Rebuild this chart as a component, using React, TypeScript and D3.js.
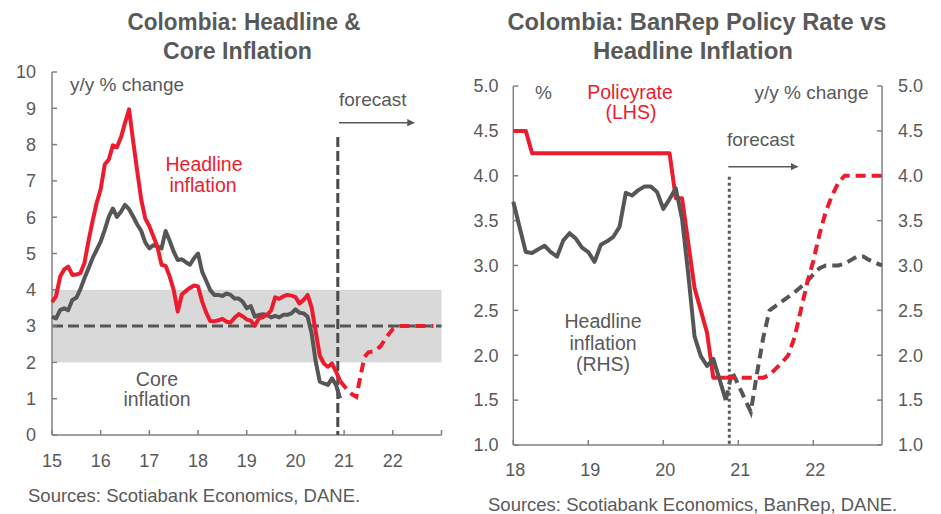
import React from "react";
import * as d3 from "d3";

// ---------- DATA ----------
// Left chart: monthly y/y %, first value sits at the start of 2015 (month-end plotting)
const leftStartYear = 15;
const headlineCPI = [
  3.66, 3.82, 4.36, 4.56, 4.64, 4.41, 4.42, 4.46, 4.74, 5.35, 5.89, 6.39,
  6.77, 7.45, 7.59, 7.98, 7.93, 8.2, 8.6, 8.97, 8.1, 7.27, 6.48, 5.96,
  5.75, 5.47, 5.18, 4.69, 4.66, 4.37, 3.99, 3.4, 3.87, 3.97, 4.05, 4.12,
  4.09, 3.68, 3.37, 3.14, 3.13, 3.16, 3.2, 3.12, 3.1, 3.23, 3.33, 3.27,
  3.18, 3.15, 3.01, 3.21, 3.25, 3.31, 3.43, 3.79, 3.75, 3.82, 3.86, 3.84,
  3.8, 3.62, 3.72, 3.86, 3.51, 2.85, 2.19, 1.97, 1.88, 1.97, 1.75, 1.49,
];
const coreCPI = [
  3.26, 3.21, 3.44, 3.49, 3.44, 3.72, 3.78, 4.02, 4.32, 4.59, 4.87, 5.1,
  5.33, 5.65, 6.01, 6.24, 6.01, 6.15, 6.34, 6.22, 6.02, 5.8, 5.62, 5.3,
  5.14, 5.23, 5.19, 5.14, 5.62, 5.35, 5.05, 4.82, 4.84, 4.76, 4.69, 4.87,
  5.0, 4.5, 4.25, 3.99, 3.86, 3.86, 3.83, 3.9, 3.86, 3.76, 3.76, 3.67,
  3.49, 3.55, 3.26, 3.31, 3.33, 3.31, 3.24, 3.28, 3.24, 3.31, 3.31, 3.35,
  3.46, 3.37, 3.35, 3.26, 2.8, 2.02, 1.47, 1.42, 1.38, 1.56, 1.38, 1.01,
];
const headlineForecastStart = 71; // months after the first value
const headlineForecast = [
  1.49, 1.35, 1.22, 1.12, 1.05, 1.6, 2.15, 2.28, 2.3, 2.35, 2.45, 2.62,
  2.78, 2.92, 2.98, 3.0, 3.0, 3.0, 3.0, 3.0, 3.0, 3.0, 3.0, 3.0,
];
const targetBand = [2, 4];
const targetMid = 3;
const leftForecastLine = 20.87;
const leftYears = [15, 16, 17, 18, 19, 20, 21, 22, 23];
const leftYTicks = [0, 1, 2, 3, 4, 5, 6, 7, 8, 9, 10];

// Right chart: monthly, first value = Jan 2018
const rightStartYear = 18;
const rightEndYear = 22 + 11 / 12;
const policyRate = [
  4.5, 4.5, 4.5, 4.25, 4.25, 4.25, 4.25, 4.25, 4.25, 4.25, 4.25, 4.25,
  4.25, 4.25, 4.25, 4.25, 4.25, 4.25, 4.25, 4.25, 4.25, 4.25, 4.25, 4.25,
  4.25, 4.25, 3.75, 3.75, 3.25, 2.75, 2.5, 2.25, 1.75, 1.75, 1.75,
];
const rightForecastStart = 34;
const policyForecast = [
  1.75, 1.75, 1.75, 1.75, 1.75, 1.75, 1.75, 1.78, 1.85, 1.92, 2.0, 2.2,
  2.5, 2.8, 3.05, 3.35, 3.6, 3.78, 3.92, 4.0, 4.0, 4.0, 4.0, 4.0, 4.0, 4.0,
];
const inflationRHS = [
  3.71, 3.43, 3.15, 3.14, 3.18, 3.22, 3.15, 3.1, 3.28, 3.36, 3.3, 3.2,
  3.15, 3.04, 3.23, 3.27, 3.32, 3.43, 3.81, 3.78, 3.84, 3.88, 3.88, 3.82,
  3.63, 3.74, 3.86, 3.52, 2.9, 2.21, 1.99, 1.88, 1.96, 1.73, 1.5,
];
const inflationForecast = [
  1.5, 1.82, 1.67, 1.52, 1.37, 1.8, 2.2, 2.5, 2.55, 2.6, 2.65, 2.7,
  2.76, 2.82, 2.9, 2.97, 3.0, 3.0, 3.0, 3.02, 3.06, 3.1, 3.1, 3.06, 3.03, 3.0,
];
const rightForecastLine = 20.88;
const rightYears = [18, 19, 20, 21, 22];
const rightYTicks = [1, 1.5, 2, 2.5, 3, 3.5, 4, 4.5, 5];

// ---------- STYLE ----------
const RED = "#EC1C2E";
const DARK = "#565656";
const TXT = "#595959";
const AXIS = "#808080";
const FONT = "'Liberation Sans', Arial, sans-serif";

type P = { t: number; v: number };
const toPts = (vals: number[], start: number, offset = 0): P[] =>
  vals.map((v, i) => ({ t: start + (i + offset) / 12, v }));

export default function App() {
  // Left scales
  const xL = d3.scaleLinear().domain([15, 23]).range([52, 441.5]);
  const yL = d3.scaleLinear().domain([0, 10]).range([435, 72]);
  // Right scales
  const xR = d3.scaleLinear().domain([18, 23]).range([513.3, 888.3]);
  const yR = d3.scaleLinear().domain([1, 5]).range([445, 86]);

  const lineL = d3.line<P>().x((d) => xL(d.t)).y((d) => yL(d.v));
  const lineR = d3.line<P>().x((d) => xR(d.t)).y((d) => yR(d.v));

  const head = toPts(headlineCPI, leftStartYear);
  const core = toPts(coreCPI, leftStartYear);
  const headF = toPts(headlineForecast, leftStartYear, headlineForecastStart);
  const pol = toPts(policyRate, rightStartYear);
  const polF = toPts(policyForecast, rightStartYear, rightForecastStart);
  const inf = toPts(inflationRHS, rightStartYear);
  const infF = toPts(inflationForecast, rightStartYear, rightForecastStart);

  const xRend = xR(rightEndYear);

  return (
    <svg
      width={941}
      height={514}
      style={{ position: "absolute", left: 0, top: 0, background: "#fff" }}
      fontFamily={FONT}
    >
      <defs>
        <marker id="arr" viewBox="0 0 10 10" refX="9" refY="5" markerWidth="5" markerHeight="5" orient="auto">
          <path d="M0,0 L10,5 L0,10 z" fill={TXT} />
        </marker>
      </defs>

      {/* ===== Titles ===== */}
      <g fill={TXT} fontWeight="bold" fontSize={24} textAnchor="middle">
        <text x={244} y={30} textLength={233} lengthAdjust="spacingAndGlyphs">Colombia:  Headline &amp;</text>
        <text x={237.5} y={59} textLength={149} lengthAdjust="spacingAndGlyphs">Core Inflation</text>
        <text x={697} y={30} textLength={379} lengthAdjust="spacingAndGlyphs">Colombia:  BanRep Policy Rate vs</text>
        <text x={693} y={59}>Headline Inflation</text>
      </g>

      {/* ===== LEFT CHART ===== */}
      <rect
        x={xL(15)}
        y={yL(targetBand[1])}
        width={xL(23) - xL(15)}
        height={yL(targetBand[0]) - yL(targetBand[1])}
        fill="#D9D9D9"
      />
      <line x1={xL(15)} x2={xL(23)} y1={yL(targetMid)} y2={yL(targetMid)} stroke={DARK} strokeWidth={3} strokeDasharray="11 5" />

      {/* axes */}
      <line x1={xL(15)} x2={xL(15)} y1={yL(10)} y2={yL(0)} stroke={AXIS} strokeWidth={1.5} />
      <line x1={xL(15)} x2={xL(23)} y1={yL(0)} y2={yL(0)} stroke={AXIS} strokeWidth={1.5} />
      {leftYTicks.map((t) => (
        <g key={"ly" + t}>
          <line x1={xL(15)} x2={xL(15) + 5} y1={yL(t)} y2={yL(t)} stroke={AXIS} strokeWidth={1.5} />
          <text x={36} y={yL(t)} dy="0.35em" textAnchor="end" fontSize={18} fill={TXT}>{t}</text>
        </g>
      ))}
      {leftYears.map((t) => (
        <g key={"lx" + t}>
          <line x1={xL(t)} x2={xL(t)} y1={yL(0)} y2={yL(0) - 5} stroke={AXIS} strokeWidth={1.5} />
          {t < 23 && (
            <text x={xL(t)} y={466.5} textAnchor="middle" fontSize={18} fill={TXT}>{t}</text>
          )}
        </g>
      ))}

      {/* forecast divider */}
      <line x1={xL(leftForecastLine)} x2={xL(leftForecastLine)} y1={137} y2={yL(0)} stroke="#4a4a4a" strokeWidth={3} strokeDasharray="10 4" />

      {/* series */}
      <path d={lineL(core) || ""} fill="none" stroke={DARK} strokeWidth={4} strokeLinejoin="round" />
      <path d={lineL(head) || ""} fill="none" stroke={RED} strokeWidth={4} strokeLinejoin="round" />
      <path d={lineL(headF) || ""} fill="none" stroke={RED} strokeWidth={4} strokeDasharray="10 6" />

      {/* annotations */}
      <text x={70} y={90.5} fontSize={19} fill={TXT}>y/y % change</text>
      <text x={339} y={106} fontSize={19} fill={TXT}>forecast</text>
      <line x1={339} x2={414} y1={122.7} y2={122.7} stroke={TXT} strokeWidth={1.5} markerEnd="url(#arr)" />
      <g fill={RED} fontSize={19.5} textAnchor="middle">
        <text x={204} y={171}>Headline</text>
        <text x={203} y={192}>inflation</text>
      </g>
      <g fill={TXT} fontSize={19.5} textAnchor="middle">
        <text x={157} y={386}>Core</text>
        <text x={157} y={406}>inflation</text>
      </g>
      <text x={28} y={502} fontSize={18.5} fill={TXT}>Sources: Scotiabank Economics, DANE.</text>

      {/* ===== RIGHT CHART ===== */}
      <line x1={xR(18)} x2={xR(18)} y1={yR(5)} y2={yR(1)} stroke={AXIS} strokeWidth={1.5} />
      <line x1={xRend} x2={xRend} y1={yR(5)} y2={yR(1)} stroke={AXIS} strokeWidth={1.5} />
      <line x1={xR(18)} x2={xRend} y1={yR(1)} y2={yR(1)} stroke={AXIS} strokeWidth={1.5} />
      {rightYTicks.map((t) => (
        <g key={"ry" + t}>
          <line x1={xR(18)} x2={xR(18) + 5} y1={yR(t)} y2={yR(t)} stroke={AXIS} strokeWidth={1.5} />
          <line x1={xRend} x2={xRend - 5} y1={yR(t)} y2={yR(t)} stroke={AXIS} strokeWidth={1.5} />
          <text x={498.5} y={yR(t)} dy="0.35em" textAnchor="end" fontSize={18} fill={TXT}>{t.toFixed(1)}</text>
          <text x={898} y={yR(t)} dy="0.35em" textAnchor="start" fontSize={18} fill={TXT}>{t.toFixed(1)}</text>
        </g>
      ))}
      {rightYears.map((t) => (
        <g key={"rx" + t}>
          <line x1={xR(t)} x2={xR(t)} y1={yR(1)} y2={yR(1) - 5} stroke={AXIS} strokeWidth={1.5} />
          <text x={xR(t) + 2} y={476} textAnchor="middle" fontSize={18} fill={TXT}>{t}</text>
        </g>
      ))}

      <line x1={xR(rightForecastLine)} x2={xR(rightForecastLine)} y1={176.7} y2={yR(1)} stroke={TXT} strokeWidth={3} strokeDasharray="3 3" />

      <path d={lineR(pol) || ""} fill="none" stroke={RED} strokeWidth={4} strokeLinejoin="round" />
      <path d={lineR(inf) || ""} fill="none" stroke={DARK} strokeWidth={4} strokeLinejoin="round" />
      <path d={lineR(infF) || ""} fill="none" stroke={DARK} strokeWidth={4} strokeDasharray="10 6" />
      <path d={lineR(polF) || ""} fill="none" stroke={RED} strokeWidth={4} strokeDasharray="10 6" />

      <text x={535} y={99} fontSize={19} fill={TXT}>%</text>
      <g fill={RED} fontSize={19.5} textAnchor="middle">
        <text x={630} y={98.5}>Policyrate</text>
        <text x={631} y={119}>(LHS)</text>
      </g>
      <text x={868.5} y={99} fontSize={19} fill={TXT} textAnchor="end">y/y % change</text>
      <text x={727} y={146} fontSize={19} fill={TXT}>forecast</text>
      <line x1={728.3} x2={797.5} y1={166.7} y2={166.7} stroke={TXT} strokeWidth={1.5} markerEnd="url(#arr)" />
      <g fill={TXT} fontSize={19.5} textAnchor="middle">
        <text x={603} y={328}>Headline</text>
        <text x={603} y={349.5}>inflation</text>
        <text x={603} y={371}>(RHS)</text>
      </g>
      <text x={488} y={511} fontSize={18.5} fill={TXT}>Sources: Scotiabank Economics, BanRep, DANE.</text>
    </svg>
  );
}
